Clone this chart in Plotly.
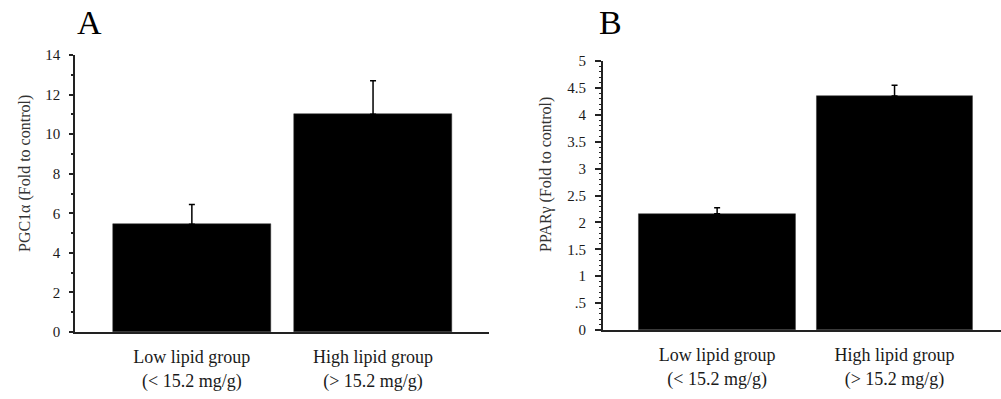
import plotly.graph_objects as go

categories = ["Low lipid group<br>(< 15.2 mg/g)", "High lipid group<br>(> 15.2 mg/g)"]
pgc1a_values = [5.45, 11.0]
pgc1a_errors = [1.0, 1.7]
ppar_values = [2.16, 4.35]
ppar_errors = [0.11, 0.20]
ppar_ticks = [0, 0.5, 1, 1.5, 2, 2.5, 3, 3.5, 4, 4.5, 5]
ppar_ticktext = ["0", ".5", "1", "1.5", "2", "2.5", "3", "3.5", "4", "4.5", "5"]

W, H = 1001, 399
FONT = "Liberation Serif, Times New Roman, serif"
TXT = "#1a1a1a"

fig = go.Figure()
fig.add_trace(go.Bar(
    x=[0, 1], y=pgc1a_values, width=0.87,
    marker=dict(color="black", line=dict(color="#333", width=0.5)),
    error_y=dict(type="data", array=pgc1a_errors, arrayminus=[0, 0], symmetric=False,
                 color="black", thickness=1.5, width=3),
    xaxis="x", yaxis="y", showlegend=False))
fig.add_trace(go.Bar(
    x=[0, 1], y=ppar_values, width=0.88,
    marker=dict(color="black", line=dict(color="#333", width=0.5)),
    error_y=dict(type="data", array=ppar_errors, arrayminus=[0, 0], symmetric=False,
                 color="black", thickness=1.5, width=3),
    xaxis="x2", yaxis="y2", showlegend=False))

def px_x(p):
    return p / W

def px_y(p):
    return 1 - p / H

xcommon = dict(tickmode="array", tickvals=[0, 1], ticktext=categories, ticks="",
               showgrid=False, zeroline=False, showline=True, linecolor="#222", linewidth=1.5,
               tickfont=dict(family=FONT, size=18, color=TXT), automargin=False,
               ticklabelstandoff=8)
fig.update_layout(
    width=W, height=H, margin=dict(l=0, r=0, t=0, b=0),
    plot_bgcolor="white", paper_bgcolor="white",
    bargap=0,
    xaxis=dict(domain=[px_x(75), px_x(489)], range=[-0.645, 1.64], anchor="y", **xcommon),
    yaxis=dict(domain=[px_y(332), px_y(55)], range=[0, 14], anchor="x",
               tickmode="linear", tick0=0, dtick=2, ticks="outside", ticklen=4, tickwidth=1.5,
               tickcolor="#222", showline=True, linecolor="#222", linewidth=1.5,
               showgrid=False, zeroline=False, automargin=False,
               tickfont=dict(family=FONT, size=15, color=TXT), ticklabelstandoff=6,
               minor=dict(ticks="outside", dtick=1, ticklen=2, tickcolor="#222", tickwidth=1.5)),
    xaxis2=dict(domain=[px_x(602.7), 1.0], range=[-0.645, 1.60], anchor="y2", **xcommon),
    yaxis2=dict(domain=[px_y(330), px_y(61)], range=[0, 5], anchor="x2",
                tickmode="array", tickvals=ppar_ticks, ticktext=ppar_ticktext,
                ticks="outside", ticklen=6, tickwidth=1.5,
                tickcolor="#222", showline=True, linecolor="#222", linewidth=1.5,
                showgrid=False, zeroline=False, automargin=False,
                tickfont=dict(family=FONT, size=15, color=TXT), ticklabelstandoff=6,
                minor=dict(ticks="outside", dtick=0.1, ticklen=2, tickcolor="#222", tickwidth=1)),
)

fig.add_annotation(text="PGC1α (Fold to control)", textangle=-90, xref="paper", yref="paper",
                   x=px_x(25), y=px_y(174), xanchor="center", yanchor="middle", showarrow=False,
                   font=dict(family=FONT, size=16, color="#333"))
fig.add_annotation(text="PPARγ (Fold to control)", textangle=-90, xref="paper", yref="paper",
                   x=px_x(546), y=px_y(175), xanchor="center", yanchor="middle", showarrow=False,
                   font=dict(family=FONT, size=16, color="#333"))
fig.add_annotation(text="A", xref="paper", yref="paper", x=px_x(89), y=px_y(22),
                   xanchor="center", yanchor="middle",
                   showarrow=False, font=dict(family=FONT, size=34, color="black"))
fig.add_annotation(text="B", xref="paper", yref="paper", x=px_x(610), y=px_y(22),
                   xanchor="center", yanchor="middle",
                   showarrow=False, font=dict(family=FONT, size=34, color="black"))

fig.write_html("out.html")
